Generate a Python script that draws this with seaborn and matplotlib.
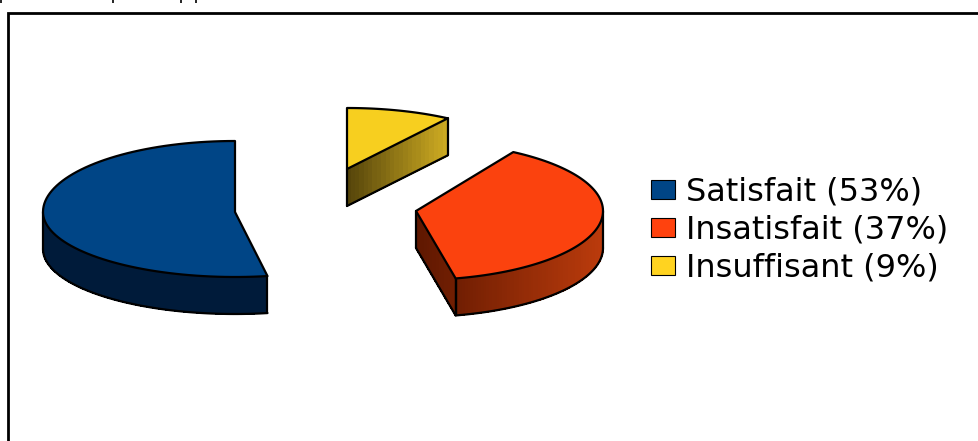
import numpy as np
import matplotlib
matplotlib.use('Agg')
import matplotlib.pyplot as plt
import seaborn as sns
from matplotlib.collections import PolyCollection
from matplotlib.patches import Patch

labels = ['Insuffisant', 'Insatisfait', 'Satisfait']
values = [9.4, 37.2, 53.4]
shown = [9, 37, 53]
colors = ['#f7cf1f', '#fb420e', '#004586']
legend_colors = {'Satisfait': '#004586', 'Insatisfait': '#ff420e', 'Insuffisant': '#ffd320'}
legend_order = ['Satisfait', 'Insatisfait', 'Insuffisant']

# ombres des flancs, de gauche a droite
side_left = ['#54430a', '#5e1700', '#001b3a']
side_right = ['#cdab22', '#bb3b0c', '#001b3a']

# centre et rayons de chaque part, en pixels
centres = [(347, 169), (416, 211), (235, 212)]
rx = [181, 187, 192]
ry_back = [61, 69, 71]
ry_front = [61, 69, 65]
depth = [37, 37, 37]
# la perspective de l'original decale un peu le debut des parts
start_shift = [0, -2.5, 2.5]

sns.set_theme(style='white')
plt.rcParams['font.family'] = ['DejaVu Sans']

fig = plt.figure(figsize=(9.79, 4.41), dpi=100)
ax = fig.add_axes([0, 0, 1, 1])
ax.set_xlim(0, 979)
ax.set_ylim(441, 0)
ax.axis('off')

# cadre coupe par l'image
ax.plot([8, 8, 979], [441, 13, 13], color='black', lw=2, solid_joinstyle='miter')
# restes du texte coupe au dessus du cadre
ax.vlines([1, 113, 181, 196], 0, 3, color='black', lw=1.2)


def rim(i, a, b, n=90):
    t = np.radians(np.linspace(a, b, n))
    ry = np.where(np.cos(t) >= 0, ry_back[i], ry_front[i])
    x = centres[i][0] + rx[i] * np.sin(t)
    y = centres[i][1] - ry * np.cos(t)
    return x, y


def wall(i, x, y, x0, x1):
    # un flanc en bandes etroites pour le degrade
    shades = sns.blend_palette([side_left[i], side_right[i]], 64)
    quads, cols = [], []
    for k in range(len(x) - 1):
        quads.append([(x[k], y[k]), (x[k + 1], y[k + 1]),
                      (x[k + 1], y[k + 1] + depth[i]), (x[k], y[k] + depth[i])])
        f = ((x[k] + x[k + 1]) / 2 - x0) / (x1 - x0)
        cols.append(shades[int(np.clip(f, 0, 0.999) * 64)])
    ax.add_collection(PolyCollection(quads, facecolors=cols, edgecolors=cols,
                                     linewidths=0.5, antialiaseds=False))
    ax.plot(x, y + depth[i], color='black', lw=1.6)
    ax.plot([x[0], x[0]], [y[0], y[0] + depth[i]], color='black', lw=1.6)
    ax.plot([x[-1], x[-1]], [y[-1], y[-1] + depth[i]], color='black', lw=1.6)


start = 0.0
total = sum(values)
for i, v in enumerate(values):
    end = start + v / total * 360
    a0 = start + start_shift[i]
    cx, cy = centres[i]
    xs, ys = rim(i, a0, end)
    left, right = min(cx, xs.min()), max(cx, xs.max())

    # flanc droit de la part, visible seulement s'il regarde vers le bas
    if np.sin(np.radians(end)) > 1e-6:
        wall(i, np.linspace(cx, xs[-1], 24), np.linspace(cy, ys[-1], 24), left, right)
    if np.sin(np.radians(a0)) < -1e-6:
        wall(i, np.linspace(cx, xs[0], 24), np.linspace(cy, ys[0], 24), left, right)

    # bord exterieur, seulement la moitie avant
    a, b = max(a0, 90), min(end, 270)
    if b > a:
        wx, wy = rim(i, a, b)
        wall(i, wx, wy, left, right)

    ax.fill(np.r_[cx, xs], np.r_[cy, ys], facecolor=colors[i], edgecolor='black',
            lw=1.6, joinstyle='round', zorder=3)
    start = end

pct = dict(zip(labels, shown))
handles = [Patch(facecolor=legend_colors[n], edgecolor='black', lw=0.8) for n in legend_order]
names = ['{} ({}%)'.format(n, pct[n]) for n in legend_order]
ax.legend(handles, names, loc='upper left', bbox_to_anchor=(651 / 979, 1 - 176.5 / 441),
          frameon=False, fontsize=23, labelcolor='black', handlelength=0.75, handleheight=0.55,
          handletextpad=0.34, labelspacing=0.22, borderpad=0, borderaxespad=0)

fig.savefig('out.png', dpi=100)
